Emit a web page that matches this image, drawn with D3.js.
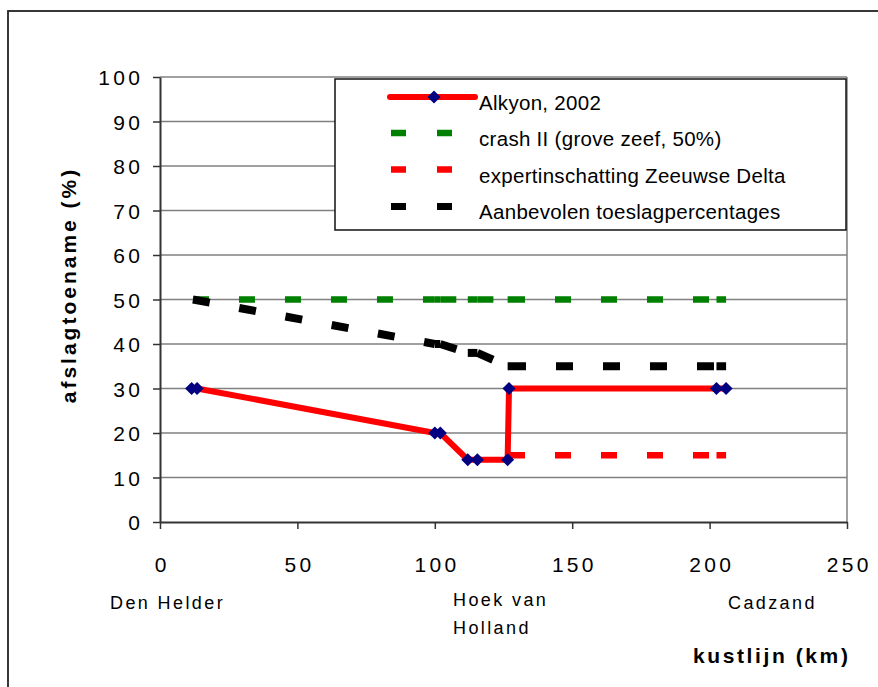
<!DOCTYPE html>
<html><head><meta charset="utf-8">
<script src="https://cdn.jsdelivr.net/npm/d3@7"></script>
<style>html,body{margin:0;padding:0;background:#fff;}svg{display:block;}text{font-family:"Liberation Sans",Arial,sans-serif;}</style>
</head><body>
<script>
// ---- data ----
const alkyonX = [11.5, 13.5, 100, 102, 112, 115.5, 126.5, 127, 202.5, 206];
const alkyonY = [30, 30, 20, 20, 14, 14, 14, 30, 30, 30];
const crashX = [12, 100, 102, 112, 115.5, 126.5, 127, 202.5, 206];
const crashY = [50, 50, 50, 50, 50, 50, 50, 50, 50];
const expertX = [126.5, 127, 202.5, 206];
const expertY = [15, 15, 15, 15];
const advisedX = [12, 100, 102, 112, 115.5, 126.5, 127, 202.5, 206];
const advisedY = [50, 40, 40, 38, 38, 35, 35, 35, 35];
const xTicks = [0, 50, 100, 150, 200, 250];
const yTicks = [0, 10, 20, 30, 40, 50, 60, 70, 80, 90, 100];
const legendLabels = ["Alkyon, 2002", "crash II (grove zeef, 50%)", "expertinschatting Zeeuwse Delta", "Aanbevolen toeslagpercentages"];
const placeLabels = [{t:["Den Helder"], x:110}, {t:["Hoek van","Holland"], x:453}, {t:["Cadzand"], x:728}];
const xTitle = "kustlijn (km)";
const yTitle = "afslagtoename (%)";

const W = 878, H = 687;
const L = 160, R = 847, T = 77, B = 522;
const svg = d3.select("body").append("svg").attr("width", W).attr("height", H);

// outer frame
svg.append("rect").attr("x", 8).attr("y", 11).attr("width", 900).attr("height", 700)
  .attr("fill", "#fff").attr("stroke", "#222").attr("stroke-width", 1.8);

const x = d3.scaleLinear().domain([0, 250]).range([L, R]);
const y = d3.scaleLinear().domain([0, 100]).range([B, T]);

// gridlines
svg.append("g").selectAll("line").data(yTicks.filter(d => d > 0)).join("line")
  .attr("x1", L).attr("x2", R).attr("y1", d => y(d)).attr("y2", d => y(d))
  .attr("stroke", "#808080").attr("stroke-width", 1.5);
// plot right border
svg.append("line").attr("x1", R).attr("x2", R).attr("y1", T).attr("y2", B)
  .attr("stroke", "#808080").attr("stroke-width", 1.5);

// y axis
const yAx = svg.append("g").attr("transform", `translate(${L},0)`)
  .call(d3.axisLeft(y).tickValues(yTicks).tickSize(7).tickPadding(13).tickSizeOuter(0));
yAx.select(".domain").attr("stroke", "#333").attr("stroke-width", 2);
yAx.selectAll(".tick line").attr("stroke", "#333").attr("stroke-width", 1.5);
yAx.selectAll(".tick text").attr("font-size", 21).attr("fill", "#000")
  .attr("font-family", "Liberation Sans, Arial, sans-serif")
  .style("letter-spacing", "3.3px").attr("dx", 3.3).attr("dy", "0.36em");

// x axis
const xAx = svg.append("g").attr("transform", `translate(0,${B})`)
  .call(d3.axisBottom(x).tickValues(xTicks).tickSize(7).tickPadding(0).tickSizeOuter(0));
xAx.select(".domain").attr("stroke", "#333").attr("stroke-width", 2);
xAx.selectAll(".tick line").attr("stroke", "#333").attr("stroke-width", 1.5);
xAx.selectAll(".tick text").attr("font-size", 21).attr("fill", "#000")
  .attr("font-family", "Liberation Sans, Arial, sans-serif")
  .style("letter-spacing", "3.3px").attr("dx", 1.65).attr("y", 50).attr("dy", 0);

// series helpers: dash pattern restarts on each segment
function segs(xs, ys) {
  const out = [];
  for (let i = 0; i < xs.length - 1; i++) out.push([[xs[i], ys[i]], [xs[i+1], ys[i+1]]]);
  return out;
}
function dashed(xs, ys, color, width, dash) {
  svg.append("g").selectAll("line").data(segs(xs, ys)).join("line")
    .attr("x1", d => x(d[0][0])).attr("y1", d => y(d[0][1]))
    .attr("x2", d => x(d[1][0])).attr("y2", d => y(d[1][1]))
    .attr("stroke", color).attr("stroke-width", width)
    .attr("stroke-dasharray", dash).attr("stroke-linecap", "butt");
}
dashed(crashX, crashY, "#008000", 6.5, "16 30");
dashed(expertX, expertY, "#ff0000", 6.5, "16 30");
dashed(advisedX, advisedY, "#000000", 8, "17 30");

// Alkyon line
const line = d3.line().x(d => x(d[0])).y(d => y(d[1]));
const alk = alkyonX.map((v, i) => [v, alkyonY[i]]);
svg.append("path").datum(alk).attr("d", line).attr("fill", "none")
  .attr("stroke", "#ff0000").attr("stroke-width", 6).attr("stroke-linejoin", "miter");
svg.append("g").selectAll("path").data(alk).join("path")
  .attr("transform", d => `translate(${x(d[0])},${y(d[1])}) rotate(45)`)
  .attr("d", d3.symbol().type(d3.symbolSquare).size(85)).attr("fill", "#000080");

// legend
const lg = svg.append("g");
lg.append("rect").attr("x", 335).attr("y", 79).attr("width", 511).attr("height", 151)
  .attr("fill", "#fff").attr("stroke", "#111").attr("stroke-width", 1.5);
const rowY = [97, 133, 169.5, 206.5];
const textY = [110, 146, 182.5, 219];
lg.append("line").attr("x1", 390).attr("x2", 475).attr("y1", rowY[0]).attr("y2", rowY[0])
  .attr("stroke", "#ff0000").attr("stroke-width", 6).attr("stroke-linecap", "round");
lg.append("path").attr("transform", `translate(434,${rowY[0]}) rotate(45)`)
  .attr("d", d3.symbol().type(d3.symbolSquare).size(85)).attr("fill", "#000080");
const lc = [null, ["#008000", 6.5, "15 31"], ["#ff0000", 6.5, "15 31"], ["#000000", 7, "15 31"]];
for (let i = 1; i < 4; i++) {
  lg.append("line").attr("x1", 391).attr("x2", 475).attr("y1", rowY[i]).attr("y2", rowY[i])
    .attr("stroke", lc[i][0]).attr("stroke-width", lc[i][1]).attr("stroke-dasharray", lc[i][2]);
}
lg.selectAll("text.lt").data(legendLabels).join("text").attr("class", "lt")
  .attr("x", 479).attr("y", (d, i) => textY[i]).attr("font-size", 20.5)
  .style("letter-spacing", "0.3px").text(d => d);

// place labels
placeLabels.forEach(p => {
  p.t.forEach((t, j) => {
    svg.append("text").attr("x", p.x).attr("y", p.t.length > 1 ? [605.5, 634][j] : 609)
      .attr("font-size", 18).style("letter-spacing", "2.4px").text(t);
  });
});

// axis titles
svg.append("text").attr("x", 693).attr("y", 663).attr("font-size", 21).attr("font-weight", "bold")
  .style("letter-spacing", "2.6px").text(xTitle);
svg.append("text").attr("transform", "translate(76,285) rotate(-90)").attr("text-anchor", "middle")
  .attr("font-size", 21).attr("font-weight", "bold").style("letter-spacing", "3px").text(yTitle);
</script>
</body></html>
